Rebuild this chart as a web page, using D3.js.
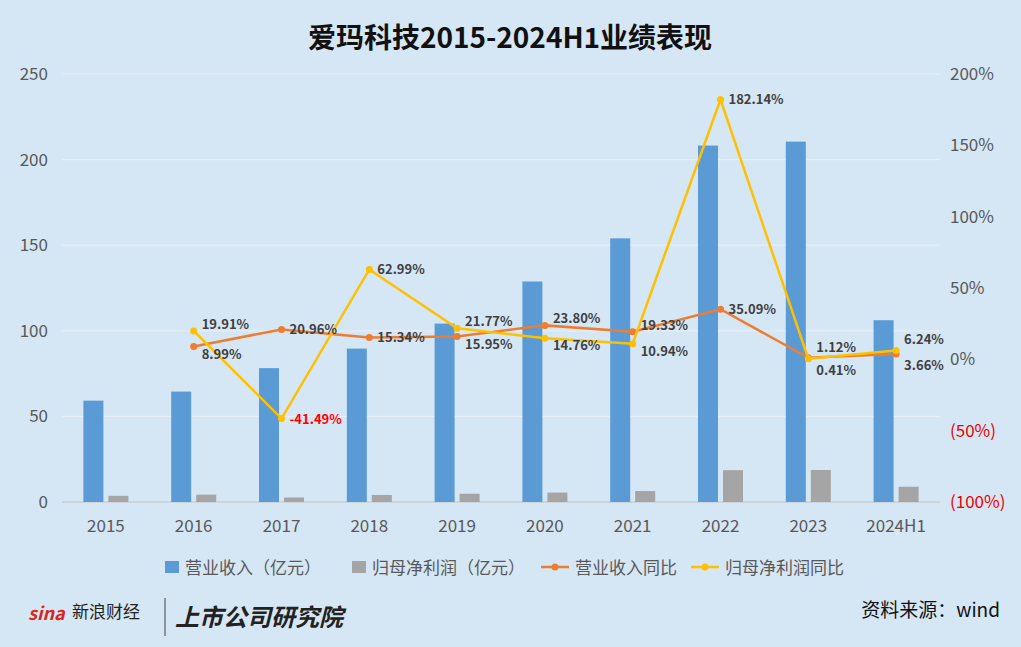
<!DOCTYPE html>
<html><head><meta charset="utf-8">
<script src="https://cdn.jsdelivr.net/npm/d3@7/dist/d3.min.js"></script>
<style>body{margin:0;background:#d5e6f4;font-family:"Noto Sans CJK SC","Noto Sans",sans-serif}</style>
</head><body><svg id="c" width="1021" height="647"></svg>
<script>
const categories=["2015","2016","2017","2018","2019","2020","2021","2022","2023","2024H1"];
const revenue=[59.2,64.5,78.2,89.6,104.2,128.8,154.0,208.2,210.5,106.2];
const netProfit=[3.6,4.3,2.6,4.1,4.8,5.5,6.4,18.6,18.7,8.9];
const revYoY=[null,8.99,20.96,15.34,15.95,23.80,19.33,35.09,1.12,3.66];
const profitYoY=[null,19.91,-41.49,62.99,21.77,14.76,10.94,182.14,0.41,6.24];
const leftTicks=[0,50,100,150,200,250];
const rightTicks=[-100,-50,0,50,100,150,200];
const seriesNames=["营业收入（亿元）","归母净利润（亿元）","营业收入同比","归母净利润同比"];
const colors=["#5b9bd5","#a5a5a5","#ed7d31","#ffc000"];

const svg=d3.select("#c");
svg.append("rect").attr("width",1021).attr("height",647).attr("fill","#d5e6f4");
const x=d3.scaleBand().domain(categories).range([62,940]);
const yL=d3.scaleLinear().domain([0,250]).range([502,74]);
const yR=d3.scaleLinear().domain([-100,200]).range([502,74]);
svg.append("text").attr("x",510).attr("y",48).attr("text-anchor","middle").attr("font-size",28).attr("font-weight","bold").attr("fill","#111").text("爱玛科技2015-2024H1业绩表现");
svg.selectAll(".g").data(leftTicks).join("line").attr("x1",62).attr("x2",940).attr("y1",d=>yL(d)).attr("y2",d=>yL(d)).attr("stroke","#e6eef6").attr("stroke-width",1.2);
svg.append("line").attr("x1",62).attr("x2",940).attr("y1",502).attr("y2",502).attr("stroke","#bfbfbf");
svg.selectAll(".lt").data(leftTicks).join("text").attr("x",48).attr("y",d=>yL(d)+6).attr("text-anchor","end").attr("font-size",17).attr("fill","#595959").text(d=>d);
svg.selectAll(".rt").data(rightTicks).join("text").attr("x",950).attr("y",d=>yR(d)+6).attr("font-size",17).attr("fill",d=>d<0?"#e00":"#595959").text(d=>d<0?`(${-d}%)`:d+"%");
svg.selectAll(".xt").data(categories).join("text").attr("x",d=>x(d)+x.bandwidth()/2).attr("y",532).attr("text-anchor","middle").attr("font-size",17).attr("fill","#595959").text(d=>d);
const bw=20;
svg.selectAll(".b1").data(revenue).join("rect").attr("x",(d,i)=>x(categories[i])+x.bandwidth()/2-bw-2.5).attr("width",bw).attr("y",d=>yL(d)).attr("height",d=>502-yL(d)).attr("fill",colors[0]);
svg.selectAll(".b2").data(netProfit).join("rect").attr("x",(d,i)=>x(categories[i])+x.bandwidth()/2+2.5).attr("width",bw).attr("y",d=>yL(d)).attr("height",d=>502-yL(d)).attr("fill",colors[1]);
function line(vals,col){
  const pts=vals.map((v,i)=>({v,i})).filter(p=>p.v!==null);
  svg.append("path").datum(pts).attr("fill","none").attr("stroke",col).attr("stroke-width",2.5)
   .attr("d",d3.line().x(p=>x(categories[p.i])+x.bandwidth()/2).y(p=>yR(p.v)));
  svg.selectAll(null).data(pts).join("circle").attr("cx",p=>x(categories[p.i])+x.bandwidth()/2).attr("cy",p=>yR(p.v)).attr("r",3.5).attr("fill",col);
}
line(revYoY,colors[2]);line(profitYoY,colors[3]);
function labels(vals,other){
  vals.forEach((v,i)=>{ if(v===null)return;
    const o=other[i]; let dy=5;
    const diff=Math.abs(v-o);
    if(diff<15){ const extra=diff<4?4:0; dy = v>=o ? -2-extra : 12+extra; }
    svg.append("text").attr("x",x(categories[i])+x.bandwidth()/2+8).attr("y",yR(v)+dy)
      .attr("font-size",13).attr("font-weight","bold").attr("fill",v<0?"#f00":"#404040").text(v.toFixed(2)+"%");
  });
}
labels(revYoY,profitYoY);labels(profitYoY,revYoY);
const lg=[[165,"rect"],[352,"rect"],[555,"line"],[705,"line"]];
lg.forEach(([lx,t],k)=>{
  const g=svg.append("g");
  if(t==="rect") g.append("rect").attr("x",lx).attr("y",561).attr("width",14).attr("height",12).attr("fill",colors[k]);
  else {g.append("line").attr("x1",lx-14).attr("x2",lx+14).attr("y1",567).attr("y2",567).attr("stroke",colors[k]).attr("stroke-width",2.5);
        g.append("circle").attr("cx",lx).attr("cy",567).attr("r",3.5).attr("fill",colors[k]);}
  g.append("text").attr("x",lx+20).attr("y",574).attr("font-size",17).attr("fill","#595959").text(seriesNames[k]);
});
svg.append("text").attr("x",1000).attr("y",617).attr("text-anchor","end").attr("font-size",19).attr("fill","#111").text("资料来源：wind");
svg.append("text").attr("x",28).attr("y",620).attr("font-size",18).attr("font-weight","bold").attr("font-style","italic").attr("fill","#d9261c").text("sina");
svg.append("text").attr("x",72).attr("y",618).attr("font-size",17).attr("fill","#222").text("新浪财经");
svg.append("line").attr("x1",165).attr("x2",165).attr("y1",598).attr("y2",636).attr("stroke","#444");
svg.append("text").attr("x",175).attr("y",626).attr("font-size",24).attr("font-weight","bold").attr("font-style","italic").attr("fill","#222").text("上市公司研究院");
</script></body></html>
